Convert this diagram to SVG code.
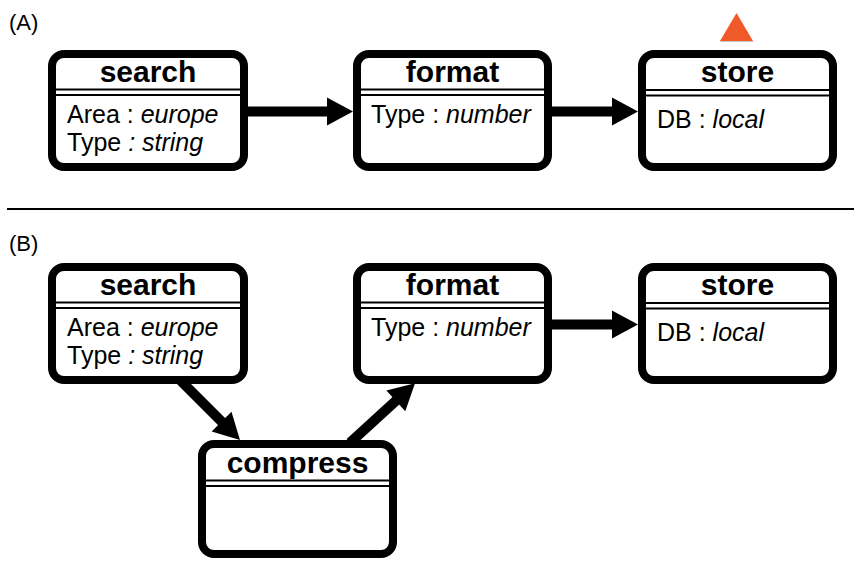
<svg xmlns="http://www.w3.org/2000/svg" width="854" height="561" viewBox="0 0 854 561">
<style>
  .box { fill: #ffffff; stroke: #000000; stroke-width: 8; }
  .sep { stroke: #000000; stroke-width: 2; }
  .title { font-family: "Liberation Sans", Arial, sans-serif; font-weight: bold; font-size: 30px; text-anchor: middle; fill: #000; }
  .body { font-family: "Liberation Sans", Arial, sans-serif; font-size: 25px; fill: #000; }
  .it { font-style: italic; }
  .lbl { font-family: "Liberation Sans", Arial, sans-serif; font-size: 22px; fill: #000; }
  .conn { stroke: #000000; stroke-width: 10; fill: none; marker-end: url(#arrow); }
</style>
<defs>
  <marker id="arrow" markerUnits="userSpaceOnUse" markerWidth="26" markerHeight="28" refX="2" refY="14" orient="auto" overflow="visible">
    <path d="M0,0 L26,14 L0,28 Z" fill="#000000"/>
  </marker>
</defs>
<rect width="854" height="561" fill="#ffffff"/>

<text class="lbl" x="9" y="30">(A)</text>
<text class="lbl" x="9" y="251">(B)</text>
<line x1="7" y1="209" x2="854" y2="209" stroke="#000" stroke-width="2"/>

<polygon id="marker-triangle" points="720,41 736.5,13 753,41" fill="#f05a28"/>
<line x1="720" y1="41.5" x2="753" y2="41.5" stroke="#c8c8c8" stroke-width="1"/>

<g id="connectors">
  <line class="conn" x1="244" y1="111.5" x2="329" y2="111.5"/>
  <line class="conn" x1="548" y1="111.5" x2="614" y2="111.5"/>
  <line class="conn" x1="548" y1="324.5" x2="614" y2="324.5"/>
  <line class="conn" x1="176" y1="376" x2="223" y2="423"/>
  <line class="conn" x1="350" y1="442.7" x2="397.3" y2="399.5"/>
</g>

<g id="A-search">
  <rect class="box" x="52" y="54" width="192" height="113" rx="12"/>
  <line class="sep" x1="52" y1="89.5" x2="244" y2="89.5"/>
  <line class="sep" x1="52" y1="95" x2="244" y2="95"/>
  <text class="title" x="148" y="82">search</text>
  <text class="body" x="67" y="122.5">Area : <tspan class="it">europe</tspan></text>
  <text class="body" x="67" y="151">Type <tspan class="it">: string</tspan></text>
</g>
<g id="A-format">
  <rect class="box" x="357" y="54" width="191" height="113" rx="12"/>
  <line class="sep" x1="357" y1="89.5" x2="548" y2="89.5"/>
  <line class="sep" x1="357" y1="95" x2="548" y2="95"/>
  <text class="title" x="452.5" y="82">format</text>
  <text class="body" x="371" y="122.5">Type : <tspan class="it">number</tspan></text>
</g>
<g id="A-store">
  <rect class="box" x="642" y="54" width="191" height="113" rx="12"/>
  <line class="sep" x1="642" y1="90" x2="833" y2="90"/>
  <line class="sep" x1="642" y1="95.5" x2="833" y2="95.5"/>
  <text class="title" x="737.5" y="82">store</text>
  <text class="body" x="657" y="128">DB : <tspan class="it">local</tspan></text>
</g>

<g id="B-search">
  <rect class="box" x="52" y="267" width="192" height="113" rx="12"/>
  <line class="sep" x1="52" y1="302.5" x2="244" y2="302.5"/>
  <line class="sep" x1="52" y1="308" x2="244" y2="308"/>
  <text class="title" x="148" y="295">search</text>
  <text class="body" x="67" y="335.5">Area : <tspan class="it">europe</tspan></text>
  <text class="body" x="67" y="364">Type <tspan class="it">: string</tspan></text>
</g>
<g id="B-format">
  <rect class="box" x="357" y="267" width="191" height="113" rx="12"/>
  <line class="sep" x1="357" y1="302.5" x2="548" y2="302.5"/>
  <line class="sep" x1="357" y1="308" x2="548" y2="308"/>
  <text class="title" x="452.5" y="295">format</text>
  <text class="body" x="371" y="335.5">Type : <tspan class="it">number</tspan></text>
</g>
<g id="B-store">
  <rect class="box" x="642" y="267" width="191" height="113" rx="12"/>
  <line class="sep" x1="642" y1="303" x2="833" y2="303"/>
  <line class="sep" x1="642" y1="308.5" x2="833" y2="308.5"/>
  <text class="title" x="737.5" y="295">store</text>
  <text class="body" x="657" y="341">DB : <tspan class="it">local</tspan></text>
</g>
<g id="B-compress">
  <rect class="box" x="202" y="444" width="191" height="110" rx="12"/>
  <line class="sep" x1="202" y1="480.5" x2="393" y2="480.5"/>
  <line class="sep" x1="202" y1="486" x2="393" y2="486"/>
  <text class="title" x="297.5" y="473">compress</text>
</g>
</svg>
